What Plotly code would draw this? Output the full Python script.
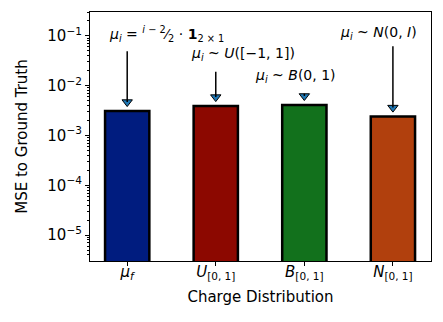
import plotly.graph_objects as go

# data
categories = ["<i>μ<sub>f</sub></i>", "<i>U</i><sub>[0, 1]</sub>",
              "<i>B</i><sub>[0, 1]</sub>", "<i>N</i><sub>[0, 1]</sub>"]
mse = [3.1e-3, 3.9e-3, 4.1e-3, 2.4e-3]
colors = ["#001c7f", "#8c0800", "#12711c", "#b1400d"]
labels = ["<i>μ<sub>i</sub></i> = <sup><i>i</i> − 2</sup>⁄<sub>2</sub> · <b>1</b><sub>2 × 1</sub>",
          "<i>μ<sub>i</sub></i> ~ <i>U</i>([−1, 1])",
          "<i>μ<sub>i</sub></i> ~ <i>B</i>(0, 1)",
          "<i>μ<sub>i</sub></i> ~ <i>N</i>(0, <i>I</i>)"]
# label positions (x as category index, y as log10)
label_x = [0.44, 1.31, 1.9, 2.84]
label_y = [-0.96, -1.37, -1.81, -0.94]
arrow_tail = [-1.31, -1.72, -2.16, -1.21]

x = list(range(len(categories)))
font = dict(family="DejaVu Sans", size=14, color="black")

fig = go.Figure()
fig.add_trace(go.Bar(x=x, y=mse, width=0.5, marker_color=colors,
                     marker_line=dict(color="black", width=2.5)))

# arrow tips just above bars
tips = [v * 10 ** 0.18 for v in mse]
for i in x:
    fig.add_shape(type="line", x0=i, x1=i, y0=10 ** arrow_tail[i], y1=tips[i],
                  line=dict(color="black", width=1.5))
    fig.add_annotation(x=label_x[i], y=label_y[i], text=labels[i], showarrow=False,
                       font=font, xref="x", yref="y")

fig.add_trace(go.Scatter(x=x, y=tips, mode="markers",
                         marker=dict(symbol="triangle-down", size=9, color="#1f77b4",
                                     line=dict(color="black", width=1))))

tickvals = [1e-5, 1e-4, 1e-3, 1e-2, 1e-1]
ticktext = ["10<sup>−5</sup>", "10<sup>−4</sup>", "10<sup>−3</sup>",
            "10<sup>−2</sup>", "10<sup>−1</sup>"]

# page body has an 8px margin, so the figure is a bit smaller
fig.update_layout(
    width=435, height=314,
    margin=dict(l=82, r=12, t=4, b=61),
    paper_bgcolor="white", plot_bgcolor="white",
    showlegend=False, font=font,
    xaxis=dict(tickvals=x, ticktext=categories, range=[-0.42, 3.43], automargin=False,
               showline=True, mirror=True, linecolor="black", linewidth=1.2,
               ticks="outside", ticklen=4, tickcolor="black", showgrid=False,
               zeroline=False, tickfont=dict(size=15), ticklabelstandoff=-7,
               title=dict(text="Charge Distribution", standoff=10, font=dict(size=15))),
    yaxis=dict(type="log", range=[-5.52, -0.52], tickvals=tickvals, ticktext=ticktext,
               automargin=False,
               showline=True, mirror=True, linecolor="black", linewidth=1.2,
               ticks="outside", ticklen=4, tickcolor="black", showgrid=False,
               tickfont=dict(size=15),
               minor=dict(ticks="outside", ticklen=2, tickcolor="black", dtick="D1"),
               title=dict(text="MSE to Ground Truth", standoff=16, font=dict(size=15))),
)

fig.write_html("out.html")
